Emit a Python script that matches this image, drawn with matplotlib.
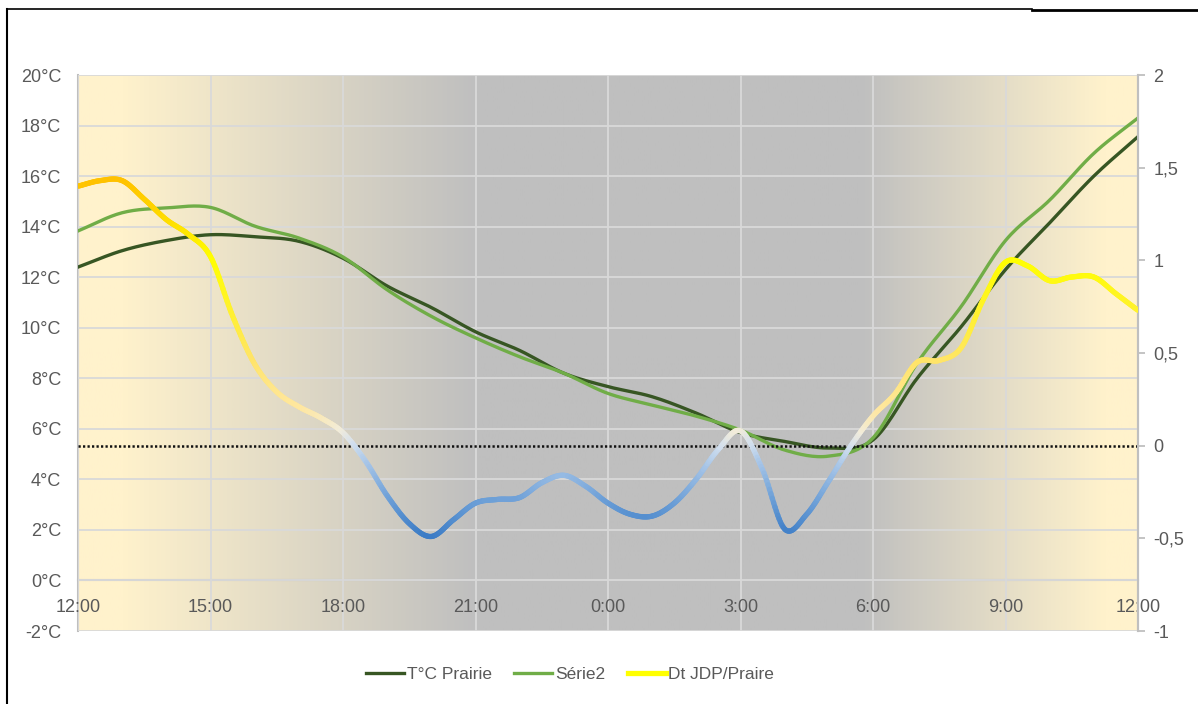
import numpy as np
import matplotlib
matplotlib.use("Agg")
import matplotlib.pyplot as plt
from matplotlib.collections import LineCollection
from matplotlib.colors import LinearSegmentedColormap
from matplotlib.lines import Line2D

plt.rcParams['font.family'] = ['Liberation Sans', 'DejaVu Sans']

# hours after 12:00
hours = np.arange(0, 25, 1.0)
t_prairie = [12.4, 13.05, 13.45, 13.68, 13.6, 13.42, 12.75, 11.65, 10.8, 9.84,
             9.1, 8.2, 7.67, 7.27, 6.62, 5.85, 5.5, 5.24, 5.56, 8.0,
             10.05, 12.3, 14.15, 16.0, 17.56]
serie2 = [13.83, 14.55, 14.74, 14.76, 14.02, 13.55, 12.8, 11.5, 10.45, 9.6,
          8.85, 8.2, 7.4, 6.94, 6.5, 5.95, 5.16, 4.92, 5.64, 8.6,
          10.85, 13.45, 15.05, 16.9, 18.3]

hours_dt = np.arange(0, 24.5, 0.5)
dt_jdp = [1.40, 1.43, 1.43, 1.33, 1.22, 1.14, 1.02, 0.70, 0.44, 0.29,
          0.21, 0.15, 0.07, -0.08, -0.27, -0.42, -0.49, -0.40, -0.31, -0.29,
          -0.28, -0.20, -0.16, -0.22, -0.31, -0.37, -0.38, -0.31, -0.18, -0.02,
          0.08, -0.13, -0.45, -0.37, -0.19, 0.00, 0.16, 0.28, 0.45, 0.46,
          0.53, 0.79, 0.99, 0.97, 0.89, 0.91, 0.91, 0.82, 0.73]

tick_labels = ['12:00', '15:00', '18:00', '21:00', '0:00', '3:00', '6:00', '9:00', '12:00']
left_labels = ['-2°C', '0°C', '2°C', '4°C', '6°C', '8°C', '10°C', '12°C', '14°C', '16°C', '18°C', '20°C']
right_labels = ['-1', '-0,5', '0', '0,5', '1', '1,5', '2']


def smooth(x, y, n=16):
    # Catmull-Rom drawing, like Excel's "smoothed line"
    x = np.asarray(x, float)
    y = np.asarray(y, float)
    px = np.concatenate([[2 * x[0] - x[1]], x, [2 * x[-1] - x[-2]]])
    py = np.concatenate([[2 * y[0] - y[1]], y, [2 * y[-1] - y[-2]]])
    xs, ys = [], []
    t = np.linspace(0, 1, n, endpoint=False)
    for i in range(1, len(px) - 2):
        for p, out in ((px, xs), (py, ys)):
            p0, p1, p2, p3 = p[i - 1], p[i], p[i + 1], p[i + 2]
            out.extend(0.5 * (2 * p1 + (-p0 + p2) * t
                              + (2 * p0 - 5 * p1 + 4 * p2 - p3) * t ** 2
                              + (-p0 + 3 * p1 - 3 * p2 + p3) * t ** 3))
    xs.append(x[-1])
    ys.append(y[-1])
    return np.array(xs), np.array(ys)


fig = plt.figure(figsize=(11.98, 7.04), dpi=100)
ax = fig.add_axes([78 / 1198, 1 - 631 / 704, 1060 / 1198, 556 / 704])

# background gradient
bg = LinearSegmentedColormap.from_list('bg', [
    (0.0, '#FFF2CC'), (0.04, '#FFF2CC'), (0.375, '#BFBFBF'),
    (0.74, '#BFBFBF'), (0.97, '#FFF2CC'), (1.0, '#FFF2CC')])
ax.imshow(np.linspace(0, 1, 512).reshape(1, -1), cmap=bg, aspect='auto',
          extent=[0, 24, -2, 20], zorder=0)

ax.set_xlim(0, 24)
ax.set_ylim(-2, 20)
ax.set_xticks(np.arange(0, 25, 3))
ax.set_xticklabels(tick_labels)
ax.set_yticks(np.arange(-2, 21, 2))
ax.set_yticklabels(left_labels)
ax.grid(True, color='#D9D9D9', lw=1.3, zorder=1)
ax.set_axisbelow(False)
ax.spines['top'].set_visible(False)
ax.spines['bottom'].set_position(('data', 0))
for s in ['bottom', 'left', 'right']:
    ax.spines[s].set_color('#BFBFBF')
    ax.spines[s].set_linewidth(1.5)
ax.tick_params(axis='x', length=0, pad=13, labelsize=13, labelcolor='#595959')
ax.tick_params(axis='y', length=0, pad=12, labelsize=13, labelcolor='#595959')

l1, = ax.plot(*smooth(hours, t_prairie), color='#375623', lw=2.4, zorder=3,
              label='T°C Prairie')
l2, = ax.plot(*smooth(hours, serie2), color='#70AD47', lw=2.4, zorder=3,
              label='Série2')

ax2 = ax.twinx()
ax2.set_ylim(-1, 2)
ax2.set_yticks(np.arange(-1, 2.01, 0.5))
ax2.set_yticklabels(right_labels)
ax2.tick_params(axis='y', length=5, width=1.3, color='#BFBFBF', pad=6,
                labelsize=13, labelcolor='#595959')
for s in ['top', 'bottom', 'left']:
    ax2.spines[s].set_visible(False)
ax2.spines['right'].set_color('#BFBFBF')
ax2.spines['right'].set_linewidth(1.5)

ax2.axhline(0, color='#111111', lw=1.8, ls=(0, (0.9, 0.9)), zorder=2)

dcmap = LinearSegmentedColormap.from_list('dt', [
    (0.0, '#3A7BC5'), (0.1, '#6C9FD7'), (0.2, '#A8C6E8'), (0.25, '#D2DFEE'),
    (0.29, '#F2ECDA'), (0.35, '#FFE7A0'), (0.475, '#FFE46A'), (0.6, '#FFF032'),
    (0.75, '#FFFF00'), (0.875, '#FFD800'), (0.975, '#FFC000'), (1.0, '#FFC000')])
xs, ys = smooth(hours_dt, dt_jdp)
pts = np.column_stack([xs, ys]).reshape(-1, 1, 2)
segs = np.concatenate([pts[:-1], pts[1:]], axis=1)
mid = (ys[:-1] + ys[1:]) / 2
lc = LineCollection(segs, colors=dcmap((mid + 0.5) / 2.0), linewidths=3.8,
                    capstyle='round', joinstyle='round', zorder=4)
ax2.add_collection(lc)

h3 = Line2D([], [], color='#FFFF00', lw=3.8, label='Dt JDP/Praire')
fig.legend(handles=[l1, l2, h3], loc='center', bbox_to_anchor=(570 / 1198, 1 - 674 / 704),
           ncol=3, frameon=False, fontsize=12.5, handlelength=2.2, handletextpad=0.15,
           columnspacing=1.3, labelcolor='#595959')

# frame lines
fig.add_artist(Line2D([7 / 1198, 7 / 1198], [0, 1 - 9 / 704], transform=fig.transFigure,
                      color='black', lw=1.5))
fig.add_artist(Line2D([7 / 1198, 1032 / 1198], [1 - 9 / 704, 1 - 9 / 704],
                      transform=fig.transFigure, color='black', lw=1.2))
fig.add_artist(Line2D([1032 / 1198, 1], [1 - 10 / 704, 1 - 10 / 704],
                      transform=fig.transFigure, color='black', lw=2))

fig.savefig('out.png', dpi=100)
